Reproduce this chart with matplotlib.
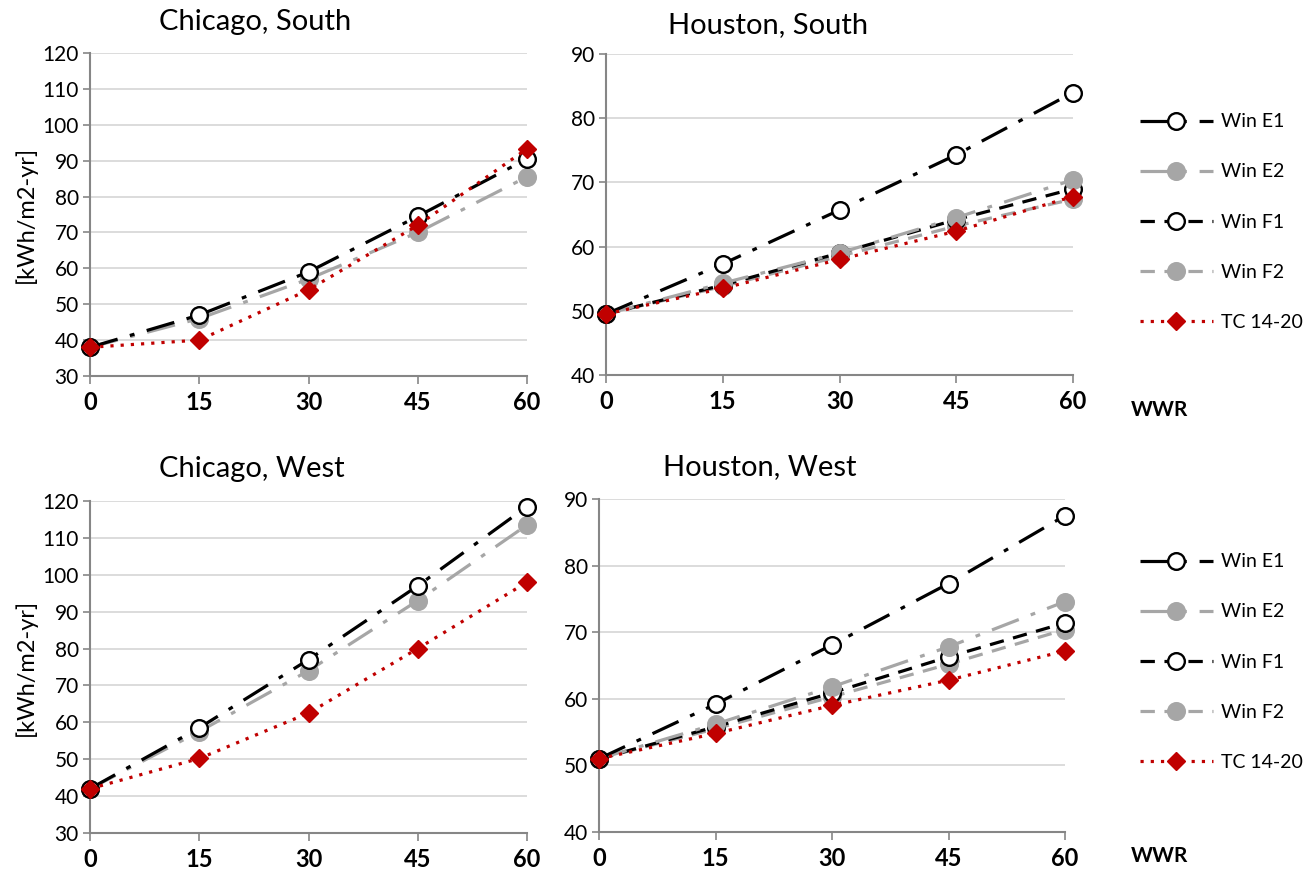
import matplotlib
matplotlib.use("Agg")
import matplotlib.pyplot as plt
from matplotlib.lines import Line2D

plt.rcParams['font.family'] = ['Lato', 'DejaVu Sans']

wwr = [0, 15, 30, 45, 60]
x_ticklabels = ["0", "15", "30", "45", "60"]

# Chicago, South
chi_s_e1 = [38.0, 47.0, 59.0, 74.5, 90.5]
chi_s_e2 = [38.0, 46.0, 57.0, 70.0, 85.5]
chi_s_tc = [38.0, 40.0, 54.0, 72.0, 93.3]

# Houston, South
hou_s_e1 = [49.5, 57.3, 65.7, 74.3, 84.0]
hou_s_e2 = [49.5, 54.3, 59.0, 64.5, 70.4]
hou_s_f1 = [49.5, 54.0, 59.0, 64.2, 69.0]
hou_s_f2 = [49.5, 53.8, 58.5, 63.2, 67.4]
hou_s_tc = [49.5, 53.5, 58.0, 62.4, 67.8]

# Chicago, West
chi_w_e1 = [42.0, 58.5, 77.0, 97.0, 118.5]
chi_w_e2 = [42.0, 57.5, 74.0, 93.0, 113.5]
chi_w_tc = [42.0, 50.2, 62.5, 80.0, 98.0]

# Houston, West
hou_w_e1 = [51.0, 59.2, 68.1, 77.3, 87.5]
hou_w_e2 = [51.0, 56.2, 61.8, 67.8, 74.6]
hou_w_f1 = [51.0, 55.8, 60.9, 66.3, 71.4]
hou_w_f2 = [51.0, 55.5, 60.3, 65.2, 70.4]
hou_w_tc = [51.0, 54.8, 59.0, 62.8, 67.2]

series_names = ["Win E1", "Win E2", "Win F1", "Win F2", "TC 14-20"]

BLACK = "#000000"
GRAY = "#A6A6A6"
RED = "#C00000"

styles = {
    "Win E1": dict(color=BLACK, lw=2.3, dashes=(9, 4, 1.5, 4), marker='o', ms=12,
                   mfc='white', mec=BLACK, mew=1.7),
    "Win E2": dict(color=GRAY, lw=2.3, dashes=(9, 4, 1.5, 4), marker='o', ms=12,
                   mfc=GRAY, mec=GRAY, mew=1.7),
    "Win F1": dict(color=BLACK, lw=2.3, dashes=(4.5, 3), marker='o', ms=12,
                   mfc='white', mec=BLACK, mew=1.7),
    "Win F2": dict(color=GRAY, lw=2.3, dashes=(4.5, 3), marker='o', ms=12,
                   mfc=GRAY, mec=GRAY, mew=1.7),
    "TC 14-20": dict(color=RED, lw=2.3, dashes=(1, 2.2), marker='D', ms=9.5,
                     mfc=RED, mec=RED, mew=1),
}

fig = plt.figure(figsize=(13.03, 8.69), dpi=100)

W, H = 1303.0, 869.0
def ax_at(x0, x1, ytop, ybot):
    return fig.add_axes([x0 / W, 1 - ybot / H, (x1 - x0) / W, (ybot - ytop) / H])

ax_tl = ax_at(90, 527, 53, 376)
ax_tr = ax_at(606, 1073, 54, 375)
ax_bl = ax_at(90, 527, 501, 833)
ax_br = ax_at(599, 1065, 499, 832)

panels = [
    (ax_tl, {"Win E1": chi_s_e1, "Win E2": chi_s_e2, "TC 14-20": chi_s_tc}, (30, 120), 10, True),
    (ax_tr, {"Win E1": hou_s_e1, "Win E2": hou_s_e2, "Win F1": hou_s_f1,
             "Win F2": hou_s_f2, "TC 14-20": hou_s_tc}, (40, 90), 10, False),
    (ax_bl, {"Win E1": chi_w_e1, "Win E2": chi_w_e2, "TC 14-20": chi_w_tc}, (30, 120), 10, True),
    (ax_br, {"Win E1": hou_w_e1, "Win E2": hou_w_e2, "Win F1": hou_w_f1,
             "Win F2": hou_w_f2, "TC 14-20": hou_w_tc}, (40, 90), 10, False),
]

order = ["Win F2", "Win F1", "Win E2", "Win E1", "TC 14-20"]
for ax, data, ylim, step, ylab in panels:
    for name in order:
        if name in data:
            ax.plot(wwr, data[name], clip_on=False, zorder=3, **styles[name])
    ax.set_xlim(0, 60)
    ax.set_ylim(*ylim)
    ax.set_yticks(range(ylim[0], ylim[1] + 1, step))
    ax.set_xticks(wwr)
    ax.set_xticklabels(x_ticklabels, fontsize=17, fontweight='bold')
    ax.tick_params(axis='y', labelsize=15, length=5, color='#868686', width=1.2, pad=3)
    ax.tick_params(axis='x', length=6, color='#868686', width=1.2, pad=5)
    for s in ['top', 'right']:
        ax.spines[s].set_visible(False)
    for s in ['left', 'bottom']:
        ax.spines[s].set_color('#868686')
        ax.spines[s].set_linewidth(1.5)
    ax.grid(axis='y', color='#D9D9D9', lw=1.3)
    ax.set_axisbelow(True)
    if ylab:
        ax.set_ylabel("[kWh/m2-yr]", fontsize=17, labelpad=4)

fig.text(255 / W, 1 - 22 / H, "Chicago, South", fontsize=21, ha='center', va='center')
fig.text(768 / W, 1 - 25 / H, "Houston, South", fontsize=21, ha='center', va='center')
fig.text(252 / W, 1 - 469 / H, "Chicago, West", fontsize=21, ha='center', va='center')
fig.text(760 / W, 1 - 467 / H, "Houston, West", fontsize=21, ha='center', va='center')

fig.text(1160 / W, 1 - 410 / H, "WWR", fontsize=15, fontweight='bold', ha='center', va='center')
fig.text(1160 / W, 1 - 856 / H, "WWR", fontsize=15, fontweight='bold', ha='center', va='center')

handles = [Line2D([0], [0], **styles[n]) for n in series_names]
for ycenter in (222, 662):
    fig.legend(handles, series_names, loc='center left',
               bbox_to_anchor=(1122 / W, 1 - ycenter / H), frameon=False,
               fontsize=14, handlelength=3.8, labelspacing=1.7, handletextpad=0.4)

fig.savefig("out.png", dpi=100)
